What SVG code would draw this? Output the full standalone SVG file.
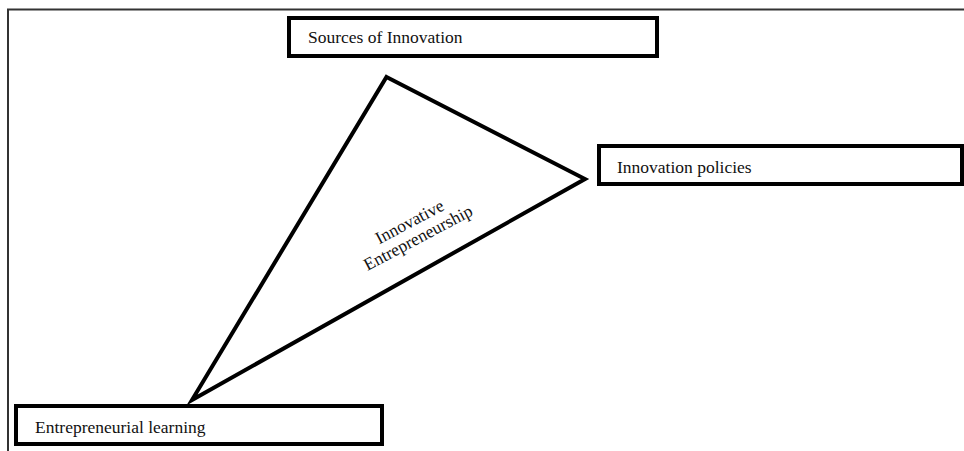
<svg xmlns="http://www.w3.org/2000/svg" width="964" height="451" viewBox="0 0 964 451">
<style>
.box{fill:#fff;stroke:#000;stroke-width:4}
.lbl{font-family:"Liberation Serif","Times New Roman",serif;font-size:17.5px;fill:#111}
.tri{fill:#fff;stroke:#000;stroke-width:4;stroke-linejoin:miter}
.frame{stroke:#333;stroke-width:2;fill:none}
</style>
<rect width="964" height="451" fill="#fff"/>
<path class="frame" d="M8,451 V9.5 H964"/>
<g id="connectors">
<polygon class="tri" points="386.5,77 585,179 192,400"/>
</g>
<g id="center">
<text class="lbl" font-size="15" text-anchor="middle" transform="translate(416,234) rotate(-28)"><tspan x="0" y="-8">Innovative</tspan><tspan x="0" y="10">Entrepreneurship</tspan></text>
</g>
<g id="sources">
<rect class="box" x="289" y="18" width="368" height="38"/>
<text class="lbl" x="308" y="43">Sources of Innovation</text>
</g>
<g id="policies">
<rect class="box" x="599" y="146" width="363" height="38"/>
<text class="lbl" x="617" y="173">Innovation policies</text>
</g>
<g id="learning">
<rect class="box" x="16" y="406" width="366" height="38"/>
<text class="lbl" x="35" y="433">Entrepreneurial learning</text>
</g>
</svg>
